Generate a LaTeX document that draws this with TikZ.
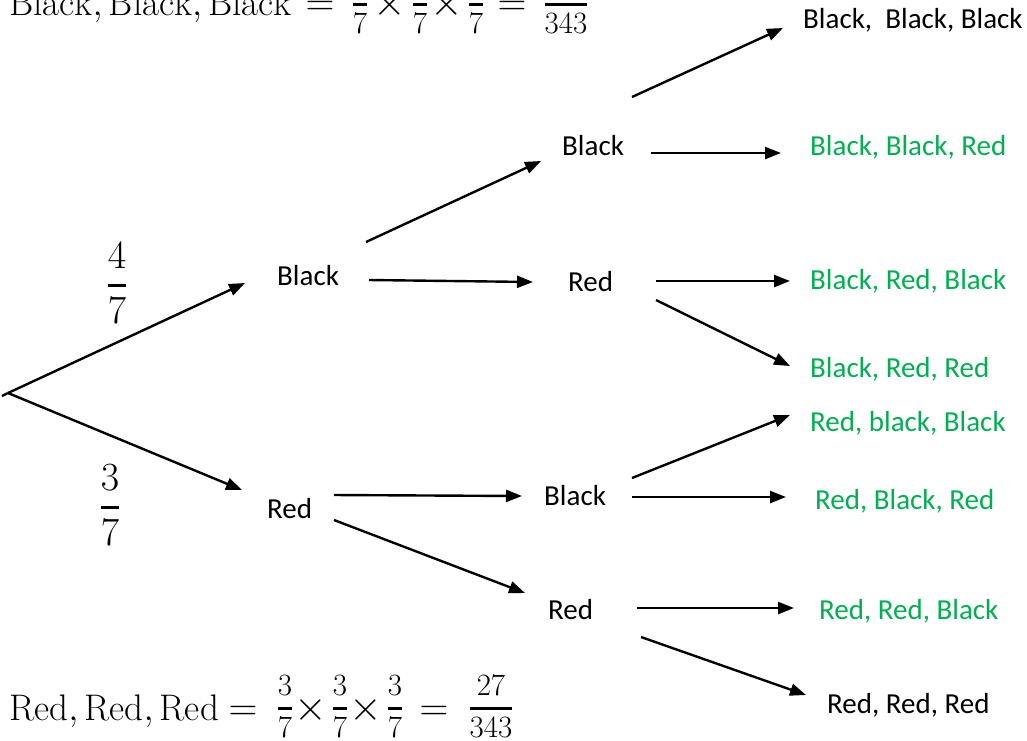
\RequirePackage{fix-cm}
\documentclass[tikz,border=0pt]{standalone}
\usepackage{amsmath}
\usepackage{fontspec}
\usetikzlibrary{arrows.meta}
\newfontfamily\labfont{Carlito}
\definecolor{leafgreen}{RGB}{0,176,80}
\newcommand{\thickfrac}[2]{\genfrac{}{}{2.6pt}{0}{#1}{#2}}
\tikzset{
  lab/.style={font=\labfont\fontsize{29}{34}\selectfont, anchor=base west, inner sep=0pt},
  leaf/.style={lab, text=leafgreen},
  arr/.style={line width=2.4pt, -{Triangle[length=16pt,width=12pt]}},
  eqtxt/.style={font=\fontsize{37}{44}\selectfont, anchor=base west, inner sep=0pt},
  eqsym/.style={font=\fontsize{40}{46}\selectfont, anchor=base, inner sep=0pt},
  eqtimes/.style={font=\fontsize{42}{48}\selectfont, anchor=base, inner sep=0pt},
  eqfr/.style={font=\fontsize{31}{36}\selectfont, anchor=base, inner sep=0pt},
  prob/.style={font=\fontsize{40}{48}\selectfont, inner sep=0pt}
}
\begin{document}
\begin{tikzpicture}[x=1pt,y=-1pt]
\useasboundingbox (0,0) rectangle (1027,740);
% labels
\node[lab] (b1) at (277,285) {Black};
\node[lab] (r1) at (267,518) {Red};
\node[lab] (b2) at (562,155) {Black};
\node[lab] (r2) at (568,291) {Red};
\node[lab] (b3) at (544,505) {Black};
\node[lab] (r3) at (548,619) {Red};
\node[lab]  (bbb) at (803,28)  {Black,\ \ Black, Black};
\node[leaf] (bbr) at (810,155) {Black, Black, Red};
\node[leaf] (brb) at (810,289) {Black, Red, Black};
\node[leaf] (brr) at (810,377) {Black, Red, Red};
\node[leaf] (rbb) at (810,431) {Red, black, Black};
\node[leaf] (rbr) at (815,509) {Red, Black, Red};
\node[leaf] (rrb) at (819,619) {Red, Red, Black};
\node[lab]  (rrr) at (827,713) {Red, Red, Red};
% probabilities
\node[prob] (p47) at (117,283) {$\thickfrac{4}{7}$};
\node[prob] (p37) at (110,505) {$\thickfrac{3}{7}$};
% top equation
\node[eqtxt] (tt) at (9,15) {$\mathrm{Black},\mathrm{Black},\mathrm{Black}$};
\node[eqsym] (te1) at (320,15) {$=$};
\node[eqfr] (tf1) at (360,12) {$\thickfrac{4}{7}$};
\node[eqtimes] (tx1) at (390,15) {$\times$};
\node[eqfr] (tf2) at (420,12) {$\thickfrac{4}{7}$};
\node[eqtimes] (tx2) at (447,15) {$\times$};
\node[eqfr] (tf3) at (476,12) {$\thickfrac{4}{7}$};
\node[eqsym] (te2) at (512,15) {$=$};
\node[eqfr] (tf4) at (566,12) {$\thickfrac{64}{343}$};
% bottom equation
\node[eqtxt] (bt) at (9,720) {$\mathrm{Red},\mathrm{Red},\mathrm{Red}$};
\node[eqsym] (be1) at (243,720) {$=$};
\node[eqfr] (bf1) at (285,716) {$\thickfrac{3}{7}$};
\node[eqtimes] (bx1) at (311,720) {$\times$};
\node[eqfr] (bf2) at (340,716) {$\thickfrac{3}{7}$};
\node[eqtimes] (bx2) at (366,720) {$\times$};
\node[eqfr] (bf3) at (395,716) {$\thickfrac{3}{7}$};
\node[eqsym] (be2) at (434,720) {$=$};
\node[eqfr] (bf4) at (491,716) {$\thickfrac{27}{343}$};
% connector end points
\coordinate (root) at (8,393);
\coordinate (b1in) at (245,283);
\coordinate (r1in) at (242,490);
\coordinate (b1o1) at (366,242); \coordinate (b2in) at (541,161);
\coordinate (b1o2) at (369,280); \coordinate (r2in) at (533,282);
\coordinate (b2o1) at (632,97);  \coordinate (bbbin) at (783,28);
\coordinate (b2o2) at (651,153); \coordinate (bbrin) at (781,153);
\coordinate (r2o1) at (656,281); \coordinate (brbin) at (790,281);
\coordinate (r2o2) at (656,300); \coordinate (brrin) at (790,366);
\coordinate (r1o1) at (334,495); \coordinate (b3in) at (522,496);
\coordinate (r1o2) at (334,520); \coordinate (r3in) at (525,593);
\coordinate (b3o1) at (632,478); \coordinate (rbbin) at (790,415);
\coordinate (b3o2) at (632,497); \coordinate (rbrin) at (786,497);
\coordinate (r3o1) at (637,608); \coordinate (rrbin) at (794,608);
\coordinate (r3o2) at (641,637); \coordinate (rrrin) at (806,695);
% connectors
\draw[line width=2.4pt] (root) -- ++(-6,3);
\draw[arr] (root) -- (b1in);
\draw[arr] (root) -- (r1in);
\draw[arr] (b1o1) -- (b2in);
\draw[arr] (b1o2) -- (r2in);
\draw[arr] (b2o1) -- (bbbin);
\draw[arr] (b2o2) -- (bbrin);
\draw[arr] (r2o1) -- (brbin);
\draw[arr] (r2o2) -- (brrin);
\draw[arr] (r1o1) -- (b3in);
\draw[arr] (r1o2) -- (r3in);
\draw[arr] (b3o1) -- (rbbin);
\draw[arr] (b3o2) -- (rbrin);
\draw[arr] (r3o1) -- (rrbin);
\draw[arr] (r3o2) -- (rrrin);
\end{tikzpicture}
\end{document}
